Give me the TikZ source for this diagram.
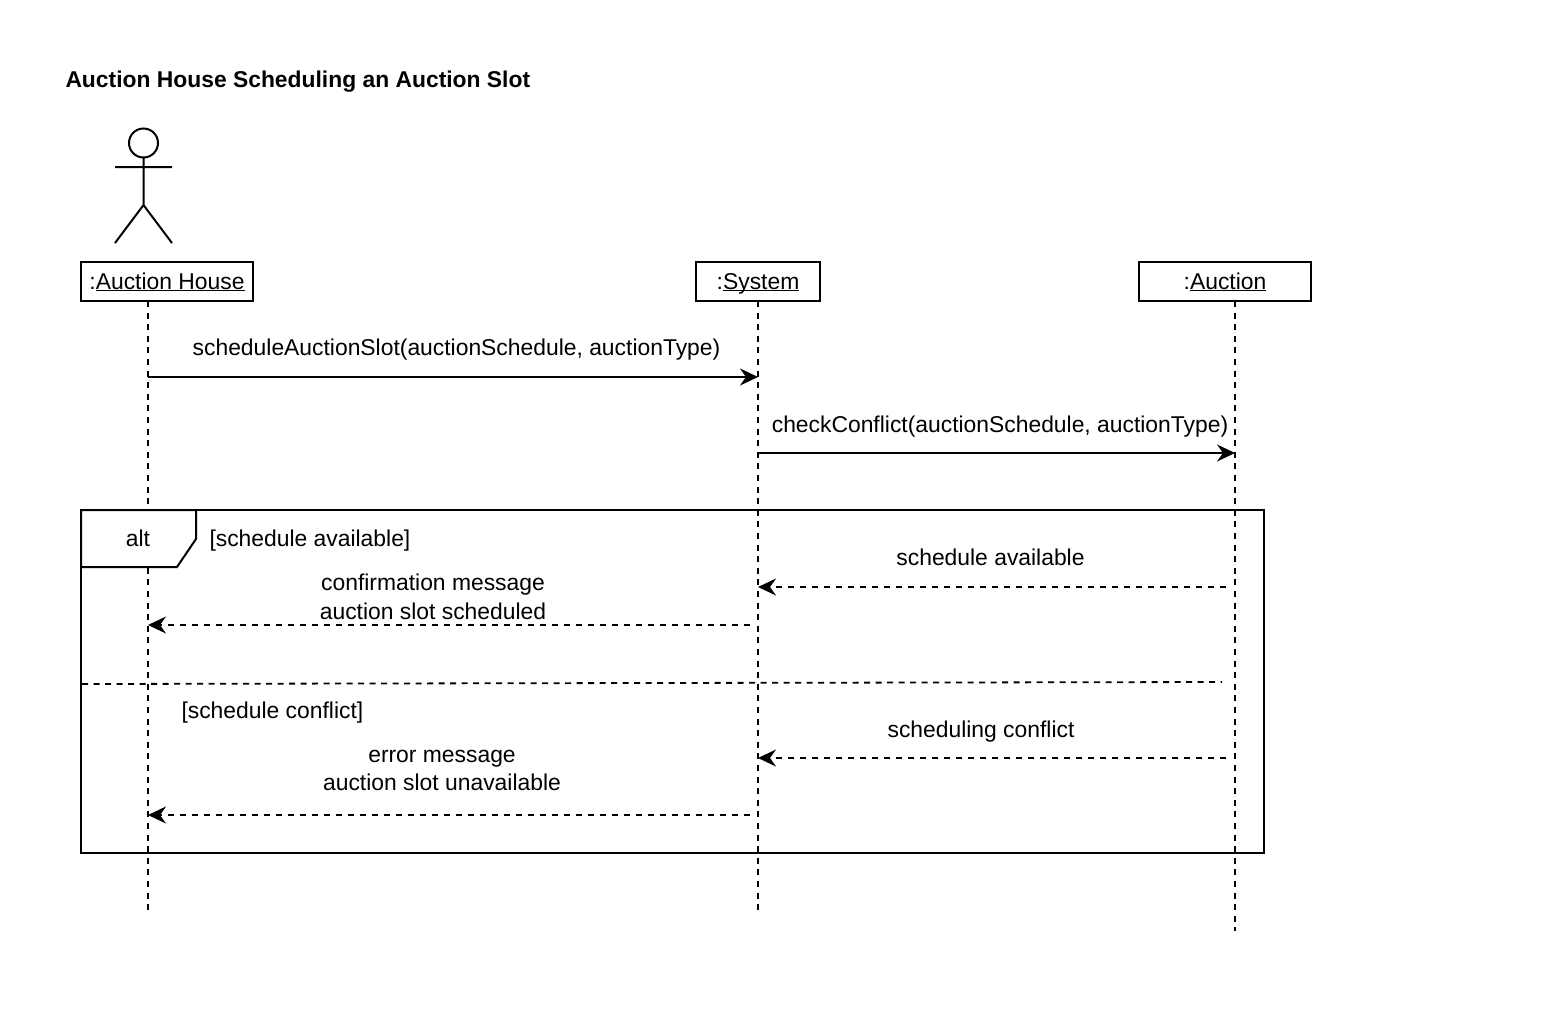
\documentclass[tikz,border=0pt]{standalone}
\usepackage{fontspec}
\setmainfont{Liberation Sans}
\usetikzlibrary{arrows.meta}
\tikzset{
  x=1pt,y=-1pt,
  every path/.style={line width=2pt,black},
  lbl/.style={font=\fontsize{22.87}{28.5}\selectfont,inner sep=0pt,outer sep=0pt,align=center,text=black},
  objbox/.style={draw,fill=white,inner sep=0pt,minimum height=39pt,text height=18pt,text depth=3pt,font=\fontsize{22.87}{28.5}\selectfont},
  lifeline/.style={line width=2pt,dash pattern=on 6pt off 5.6pt},
  msg/.style={-{Stealth[length=18pt,width=17pt,inset=6pt]}},
  reply/.style={msg,dash pattern=on 6pt off 6pt},
  divider/.style={line width=1.8pt,dash pattern=on 6pt off 5.5pt},
}
\begin{document}
\begin{tikzpicture}
\useasboundingbox (0,0) rectangle (1566,1028);
\node[lbl,anchor=west,font=\fontsize{22.85}{28}\selectfont\bfseries] (title) at (65.5,81.5) {Auction House Scheduling an Auction Slot};
% actor
\draw (143.5,143) circle (14.5pt);
\coordinate (neck) at (143.5,157.5);
\coordinate (hip) at (143.5,205);
\coordinate (armL) at (115,167);
\coordinate (armR) at (172,167);
\coordinate (footL) at (115,243);
\coordinate (footR) at (172,243);
\draw (neck) -- (hip) (armL) -- (armR) (footL) -- (hip) -- (footR);
% objects
\node[objbox,minimum width=172pt] (house) at (167,281.5) {:\underline{\smash{Auction House}}};
\node[objbox,minimum width=124pt] (system) at (758,281.5) {:\underline{\smash{System}}};
\node[objbox,minimum width=172pt] (auction) at (1225,281.5) {:\underline{\smash{Auction}}};
% lifeline coordinates
\coordinate (houseTop) at (148,301);
\coordinate (houseEnd) at (148,910.5);
\coordinate (systemTop) at (758,301);
\coordinate (systemEnd) at (758,910.5);
\coordinate (auctionTop) at (1235,301);
\coordinate (auctionEnd) at (1235,930.5);
\draw[lifeline] (houseTop) -- (houseEnd);
\draw[lifeline] (systemTop) -- (systemEnd);
\draw[lifeline] (auctionTop) -- (auctionEnd);
% frame
\draw (81,510) rectangle (1264,853);
\draw[fill=white] (81,510) -- (196,510) -- (196,539) -- (177,567) -- (81,567) -- cycle;
\node[lbl] (alt) at (138,538) {alt};
\coordinate (divL) at (82,684);
\coordinate (divR) at (1222,682);
\draw[divider] (divL) -- (divR);
\node[lbl,anchor=west] (g1) at (209.5,541) {[schedule available]};
\node[lbl,anchor=west] (g2) at (181.5,712.5) {[schedule conflict]};
% messages
\coordinate (m1a) at (148,377);
\coordinate (m1b) at (758,377);
\draw[msg] (m1a) -- (m1b);
\node[lbl] (t1) at (456.5,350) {scheduleAuctionSlot(auctionSchedule, auctionType)};
\coordinate (m2a) at (758,453);
\coordinate (m2b) at (1235,453);
\draw[msg] (m2a) -- (m2b);
\node[lbl] (t2) at (1000,427) {checkConflict(auctionSchedule, auctionType)};
\coordinate (m3a) at (1226,587);
\coordinate (m3b) at (758,587);
\draw[reply] (m3a) -- (m3b);
\node[lbl] (t3) at (990.5,557.5) {schedule available};
\coordinate (m4a) at (750,625);
\coordinate (m4b) at (148,625);
\draw[reply] (m4a) -- (m4b);
\node[lbl] (t4) at (433,597) {confirmation message\\auction slot scheduled};
\coordinate (m5a) at (1226,758);
\coordinate (m5b) at (758,758);
\draw[reply] (m5a) -- (m5b);
\node[lbl] (t5) at (981,731.5) {scheduling conflict};
\coordinate (m6a) at (750,815);
\coordinate (m6b) at (148,815);
\draw[reply] (m6a) -- (m6b);
\node[lbl] (t6) at (442,770.5) {error message\\auction slot unavailable};
\end{tikzpicture}
\end{document}
